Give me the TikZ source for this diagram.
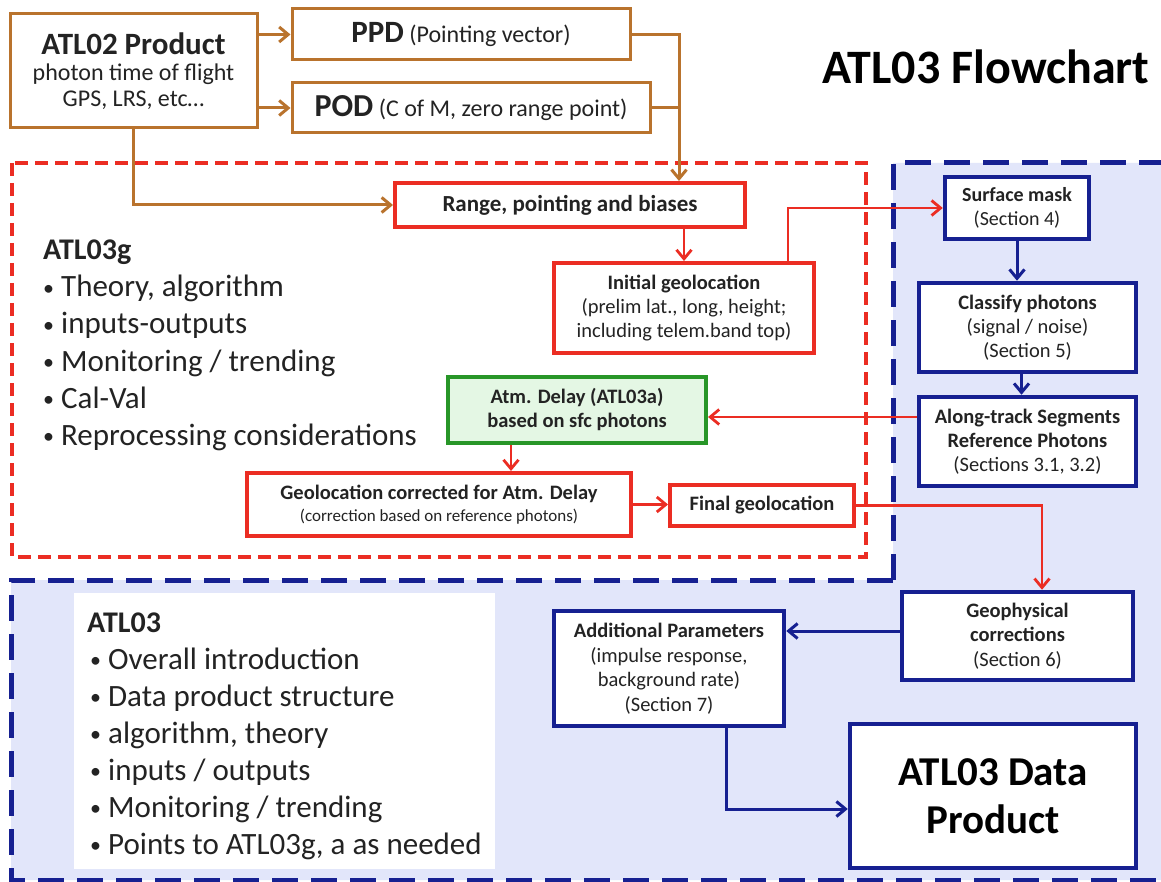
\documentclass[tikz,border=0pt]{standalone}
\usepackage{fontspec}
\setmainfont{Carlito}
\usepackage{xcolor}
\usetikzlibrary{positioning,calc,arrows.meta}

\definecolor{brownline}{RGB}{185,115,45}
\definecolor{redline}{RGB}{235,45,35}
\definecolor{blueline}{RGB}{22,32,145}
\definecolor{bluefill}{RGB}{226,230,250}
\definecolor{greenline}{RGB}{40,150,40}
\definecolor{greenfill}{RGB}{228,247,228}
\definecolor{txtgray}{RGB}{35,35,35}

\newcommand{\fsz}[2]{\fontsize{#1pt}{#2pt}\selectfont}
\newcommand{\bul}{{\fsz{22}{22}\raisebox{1.5pt}{•}}\hspace{7pt}}

\begin{document}
\begin{tikzpicture}[x=1pt, y=-1pt, text=txtgray,
    brownbox/.style={rectangle, draw=brownline, line width=3pt, fill=white, align=center, inner sep=0pt},
    redbox/.style={rectangle, draw=redline, line width=4pt, fill=white, align=center, inner sep=0pt},
    greenbox/.style={rectangle, draw=greenline, line width=4pt, fill=greenfill, align=center, inner sep=0pt},
    bluebox/.style={rectangle, draw=blueline, line width=4.5pt, fill=white, align=center, inner sep=0pt},
    brownarrow/.style={draw=brownline, line width=3pt},
    redarrow/.style={draw=redline, line width=2.8pt},
    bluearrow/.style={draw=blueline, line width=3pt},
    reddash/.style={draw=redline, line width=4pt, dash pattern=on 13pt off 7pt},
    bluedash/.style={draw=blueline, line width=5pt, dash pattern=on 26pt off 13pt},
    bullet/.style={anchor=base west, inner sep=0pt, font=\fsz{31}{37}},
    >={Straight Barb[length=9pt,width=15pt]}]
    \useasboundingbox (0,0) rectangle (1161,882);

    % ATL03 region
    \begin{scope}
        \clip (0,0) rectangle (1161,882);
        \fill[bluefill] (893,163) -- (1180,163) -- (1180,880) -- (11,880) -- (11,580) -- (893,580) -- cycle;
        \draw[bluedash] (893,580) -- (893,163) -- (1180,163);
        \draw[bluedash] (893,580) -- (11,580) -- (11,880) -- (1180,880);
    \end{scope}

    % ATL03g region
    \draw[reddash] (12,163) rectangle (866,557);
    \fill[white] (74,593) rectangle (495,869);

    % Inputs
    \node[brownbox, minimum width=247pt, minimum height=114pt, font=\fsz{24}{26}] (atl02) at (133.5,71)
        {{\fsz{31}{33}\bfseries ATL02 Product}\\photon time of flight\\GPS, LRS, etc…};
    \node[brownbox, minimum width=338pt, minimum height=51pt, font=\fsz{24}{26}] (ppd) at (461,34.5)
        {{\fsz{31}{31}\bfseries PPD} (Pointing vector)};
    \node[brownbox, minimum width=358pt, minimum height=50pt, font=\fsz{24}{26}] (pod) at (471,108)
        {{\fsz{32}{32}\bfseries POD} (C of M, zero range point)};
    \node[font=\fsz{48}{48}\bfseries, text=black] (title) at (986,67) {ATL03 Flowchart};

    % ATL03g
    \node[redbox, minimum width=350pt, minimum height=44pt, font=\fsz{23}{26}\bfseries] (range) at (570,205)
        {Range, pointing and biases};
    \node[redbox, minimum width=260pt, minimum height=90pt, font=\fsz{20.5}{24}] (init) at (684,308)
        {\textbf{Initial geolocation}\\(prelim lat., long, height;\\including telem.band top)};
    \node[greenbox, minimum width=258pt, minimum height=66pt, font=\fsz{20.5}{24}\bfseries] (atm) at (577,410)
        {Atm. Delay (ATL03a)\\based on sfc photons};
    \node[redbox, minimum width=384pt, minimum height=63pt, font=\fsz{20.5}{22}] (geocor) at (439,504.5)
        {\textbf{Geolocation corrected for Atm. Delay}\\{\fsz{17}{20}(correction based on reference photons)}};
    \node[redbox, minimum width=184pt, minimum height=41pt, font=\fsz{20.5}{24}\bfseries] (final) at (762,505.5)
        {Final geolocation};

    \node[bullet, font=\fsz{30}{30}\bfseries] (glabel) at (43,260) {ATL03g};
    \foreach \txt [count=\i] in {{Theory, algorithm},{inputs-outputs},{Monitoring / trending},{Cal-Val},{Reprocessing considerations}}
        \node[bullet] (gitem\i) at (43,{260+37*\i}) {\bul\txt};

    % ATL03
    \node[bluebox, minimum width=144pt, minimum height=62pt, font=\fsz{20}{24}] (surf) at (1017,208)
        {\textbf{Surface mask}\\(Section 4)};
    \node[bluebox, minimum width=217pt, minimum height=89pt, font=\fsz{20.5}{24}] (classify) at (1027.5,327.5)
        {\textbf{Classify photons}\\(signal / noise)\\(Section 5)};
    \node[bluebox, minimum width=217pt, minimum height=89pt, font=\fsz{20.5}{24}] (along) at (1027.5,441.5)
        {\textbf{Along-track Segments}\\\textbf{Reference Photons}\\(Sections 3.1, 3.2)};
    \node[bluebox, minimum width=231pt, minimum height=88pt, font=\fsz{20.5}{24.5}] (geophys) at (1017.5,636)
        {\textbf{Geophysical}\\\textbf{corrections}\\(Section 6)};
    \node[bluebox, minimum width=230pt, minimum height=115pt, font=\fsz{20.5}{24.5}] (addl) at (669,668.5)
        {\textbf{Additional Parameters}\\(impulse response,\\background rate)\\(Section 7)};
    \node[bluebox, minimum width=286pt, minimum height=144pt, font=\fsz{41}{48}\bfseries, text=black] (prod) at (993,796)
        {ATL03 Data\\Product};

    \node[bullet, font=\fsz{30}{30}\bfseries] (alabel) at (87,632) {ATL03};
    \foreach \txt [count=\i] in {{Overall introduction},{Data product structure},{algorithm, theory},{inputs / outputs},{Monitoring / trending},{Points to ATL03g, a as needed}}
        \node[bullet] (aitem\i) at (90,{632+37*\i}) {\bul\txt};

    % connectors
    \coordinate (rangein) at ([xshift=109pt]range.north);
    \draw[brownarrow, ->] (atl02.east |- ppd) -- (ppd.west);
    \draw[brownarrow, ->] (atl02.east |- pod) -- (pod.west);
    \draw[brownarrow, ->] (ppd.east) -| (rangein);
    \draw[brownarrow] (pod.east) -- (pod.east -| rangein);
    \draw[brownarrow, ->] (atl02.south) |- (range.west);

    \draw[redarrow, ->] (range.south -| init.north) -- (init.north);
    \draw[redarrow, ->] ([xshift=104pt]init.north) |- (surf.west);
    \coordinate (alongout) at ([yshift=24.5pt]along.west);
    \draw[redarrow, ->] (alongout) -- (alongout -| atm.east);
    \draw[redarrow, ->] ([xshift=-66pt]atm.south) -- ([xshift=-66pt]atm.south |- geocor.north);
    \draw[redarrow, ->] (geocor.east) -- (geocor.east -| final.west);
    \draw[redarrow, ->] (final.east) -| ([xshift=24.5pt]geophys.north);

    \draw[bluearrow, ->] (surf.south) -- (surf.south |- classify.north);
    \draw[bluearrow, ->] ([xshift=-6pt]classify.south) -- ([xshift=-6pt]along.north);
    \draw[bluearrow, ->] ([yshift=5pt]geophys.west) -- ([yshift=5pt]geophys.west -| addl.east);
    \draw[bluearrow, ->] ([xshift=57pt]addl.south) |- ([yshift=-13pt]prod.west);
\end{tikzpicture}
\end{document}
